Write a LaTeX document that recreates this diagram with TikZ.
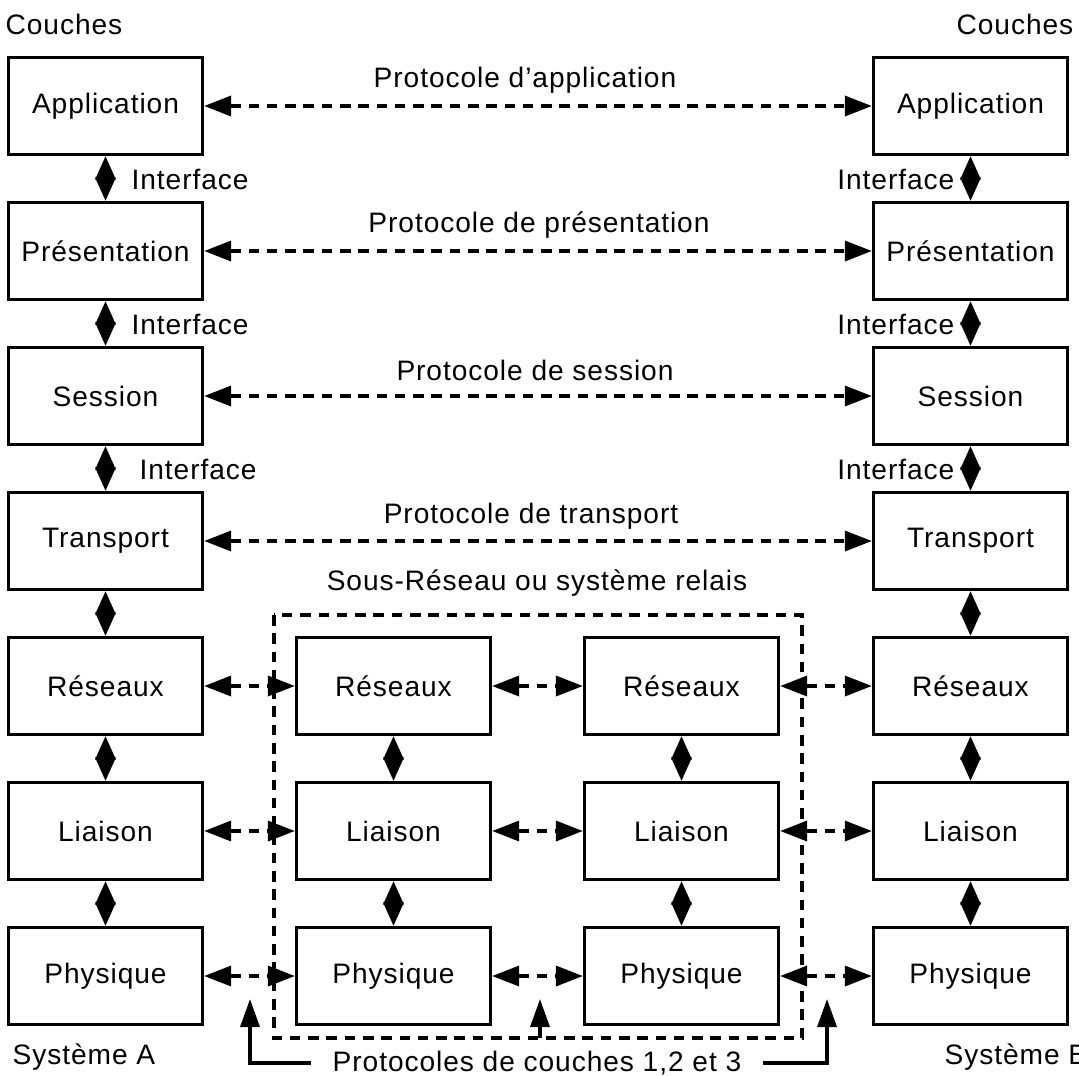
\documentclass[tikz,border=0pt]{standalone}
\usepackage{fontspec}
\setmainfont{Liberation Sans}[LetterSpace=3.3]
\usetikzlibrary{arrows.meta}

\begin{document}
\begin{tikzpicture}[x=0.01cm, y=-0.01cm,
  every node/.style={font=\fontsize{8}{10}\selectfont},
  layer/.style={draw, line width=0.9pt, minimum width=1.94cm, minimum height=0.97cm, inner sep=0pt},
  txt/.style={inner sep=0pt},
  tipA/.tip={Triangle[length=0.27cm, width=0.2cm]},
  proto/.style={line width=1pt, dash pattern=on 3pt off 2.2pt, {tipA}-{tipA}},
  iface/.style={line width=0.9pt, {Triangle[length=0.235cm, width=0.2cm]}-{Triangle[length=0.235cm, width=0.2cm]}},
  relay/.style={line width=1pt, dash pattern=on 3pt off 2.2pt},
  pointer/.style={line width=1pt, -{Triangle[length=0.28cm, width=0.19cm]}}
]
% page
\useasboundingbox (0,0) rectangle (1079,1075);
\fill[white] (0,0) rectangle (1079,1075);

% column headings and system names
\node[txt] (couchesA) at (64,24) {Couches};
\node[txt] (couchesB) at (1015,24) {Couches};
\node[txt, anchor=west] (sysA) at (12,1057) {Système A};
\node[txt, anchor=west] (sysB) at (944,1057) {Système B};

% system A layers
\node[layer] (A1) at (105.5,106) {Application};
\node[layer] (A2) at (105.5,251) {Présentation};
\node[layer] (A3) at (105.5,396) {Session};
\node[layer] (A4) at (105.5,541) {Transport};
\node[layer] (A5) at (105.5,686) {Réseaux};
\node[layer] (A6) at (105.5,831) {Liaison};
\node[layer] (A7) at (105.5,976) {Physique};

% system B layers
\node[layer] (B1) at (970.5,106) {Application};
\node[layer] (B2) at (970.5,251) {Présentation};
\node[layer] (B3) at (970.5,396) {Session};
\node[layer] (B4) at (970.5,541) {Transport};
\node[layer] (B5) at (970.5,686) {Réseaux};
\node[layer] (B6) at (970.5,831) {Liaison};
\node[layer] (B7) at (970.5,976) {Physique};

% relay system layers
\node[layer] (M5) at (393.5,686) {Réseaux};
\node[layer] (M6) at (393.5,831) {Liaison};
\node[layer] (M7) at (393.5,976) {Physique};
\node[layer] (N5) at (681.5,686) {Réseaux};
\node[layer] (N6) at (681.5,831) {Liaison};
\node[layer] (N7) at (681.5,976) {Physique};

% relay system boundary
\draw[relay] (274,615) rectangle (802,1038);
\node[txt] (relaylbl) at (537,583) {Sous-Réseau ou système relais};

% interfaces between layers
\foreach \u/\l in {1/2,2/3,3/4,4/5,5/6,6/7}{
  \draw[iface] (A\u.south) -- (A\l.north);
  \draw[iface] (B\u.south) -- (B\l.north);
}
\foreach \u/\l in {5/6,6/7}{
  \draw[iface] (M\u.south) -- (M\l.north);
  \draw[iface] (N\u.south) -- (N\l.north);
}
\node[txt, anchor=west] (ifA1) at (131,179) {Interface};
\node[txt, anchor=west] (ifA2) at (131,324) {Interface};
\node[txt, anchor=west] (ifA3) at (139,469) {Interface};
\node[txt, anchor=east] (ifB1) at (955,179) {Interface};
\node[txt, anchor=east] (ifB2) at (955,324) {Interface};
\node[txt, anchor=east] (ifB3) at (955,469) {Interface};

% end-to-end protocols
\draw[proto] (A1.east) -- (B1.west);
\draw[proto] (A2.east) -- (B2.west);
\draw[proto] (A3.east) -- (B3.west);
\draw[proto] (A4.east) -- (B4.west);
\node[txt] (p1) at (525,80) {Protocole d'application};
\node[txt] (p2) at (539,225) {Protocole de présentation};
\node[txt] (p3) at (535,370) {Protocole de session};
\node[txt] (p4) at (531,516) {Protocole de transport};

% hop-by-hop protocols
\foreach \r in {5,6,7}{
  \draw[proto] (A\r.east) -- (M\r.west);
  \draw[proto] (M\r.east) -- (N\r.west);
  \draw[proto] (N\r.east) -- (B\r.west);
}

% lower-layer protocol label and pointers
\node[txt] (low) at (537,1063) {Protocoles de couches 1,2 et 3};
\coordinate (tipL) at (250,999);
\coordinate (tipM) at (540,999);
\coordinate (tipR) at (827,999);
\coordinate (baseM) at (540,1038);
\draw[pointer] ([xshift=-6pt]low.west) -| (tipL);
\draw[pointer] ([xshift=6pt]low.east) -| (tipR);
\draw[pointer] (baseM) -- (tipM);
\end{tikzpicture}
\end{document}
